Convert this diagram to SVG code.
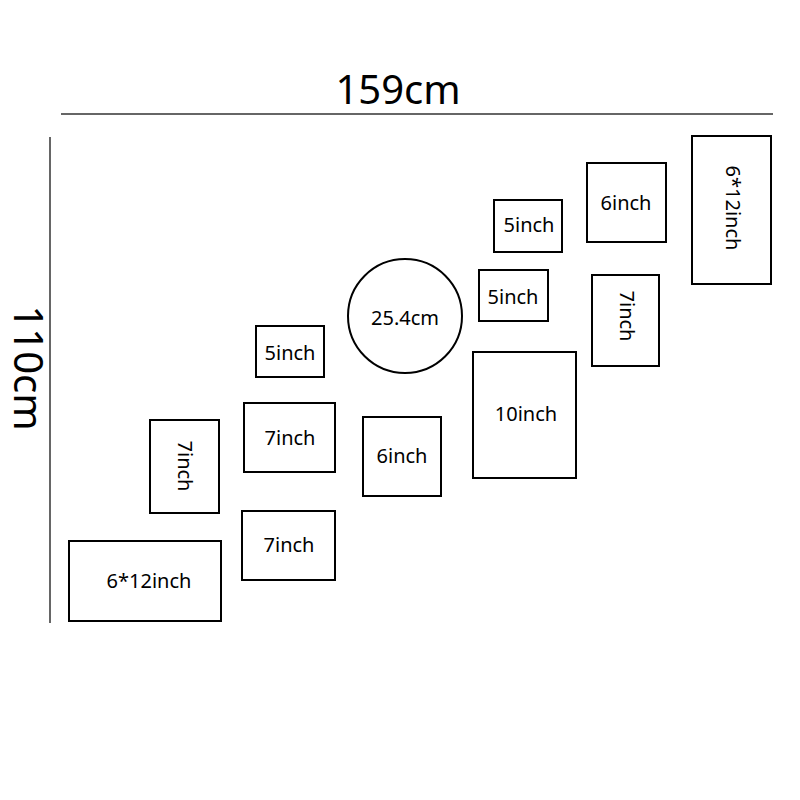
<svg xmlns="http://www.w3.org/2000/svg" width="800" height="800" viewBox="0 0 800 800">
<style>
.b{fill:none;stroke:#000;stroke-width:2}
.t{font-family:"Noto Sans","Open Sans",sans-serif;font-size:20px;fill:#000;text-anchor:middle;dominant-baseline:central}
.big{font-family:"Noto Sans","Open Sans",sans-serif;font-size:40px;fill:#000;text-anchor:middle;dominant-baseline:central}
.d{stroke:#333;stroke-width:1.5}
</style>
<rect width="800" height="800" fill="#fff"/>
<g id="dimensions">
<line class="d" x1="61" y1="114" x2="773" y2="114"/>
<line class="d" x1="50" y1="137" x2="50" y2="623"/>
<text class="big" x="398" y="88">159cm</text>
<text class="big" x="29" y="368" transform="rotate(90 29 368)">110cm</text>
</g>
<g id="f1"><rect class="b" x="69" y="541" width="152" height="80"/><text class="t" x="149" y="580">6*12inch</text></g>
<g id="f2"><rect class="b" x="150" y="420" width="69" height="93"/><text class="t" x="185" y="466" transform="rotate(90 185 466)">7inch</text></g>
<g id="f3"><rect class="b" x="256" y="326" width="68" height="51"/><text class="t" x="290" y="352">5inch</text></g>
<g id="f4"><rect class="b" x="244" y="403" width="91" height="69"/><text class="t" x="290" y="437">7inch</text></g>
<g id="f5"><rect class="b" x="242" y="511" width="93" height="69"/><text class="t" x="289" y="544">7inch</text></g>
<g id="f6"><rect class="b" x="363" y="417" width="78" height="79"/><text class="t" x="402" y="455">6inch</text></g>
<g id="f7"><circle class="b" cx="405" cy="316" r="57"/><text class="t" x="405" y="317">25.4cm</text></g>
<g id="f8"><rect class="b" x="473" y="352" width="103" height="126"/><text class="t" x="526" y="413">10inch</text></g>
<g id="f9"><rect class="b" x="479" y="270" width="69" height="51"/><text class="t" x="513" y="296">5inch</text></g>
<g id="f10"><rect class="b" x="494" y="200" width="68" height="52"/><text class="t" x="529" y="224">5inch</text></g>
<g id="f11"><rect class="b" x="587" y="163" width="79" height="79"/><text class="t" x="626" y="202">6inch</text></g>
<g id="f12"><rect class="b" x="592" y="275" width="67" height="91"/><text class="t" x="627" y="316" transform="rotate(90 627 316)">7inch</text></g>
<g id="f13"><rect class="b" x="692" y="136" width="79" height="148"/><text class="t" x="733" y="208" transform="rotate(90 733 208)">6*12inch</text></g>
<g id="connectors"></g>
</svg>
